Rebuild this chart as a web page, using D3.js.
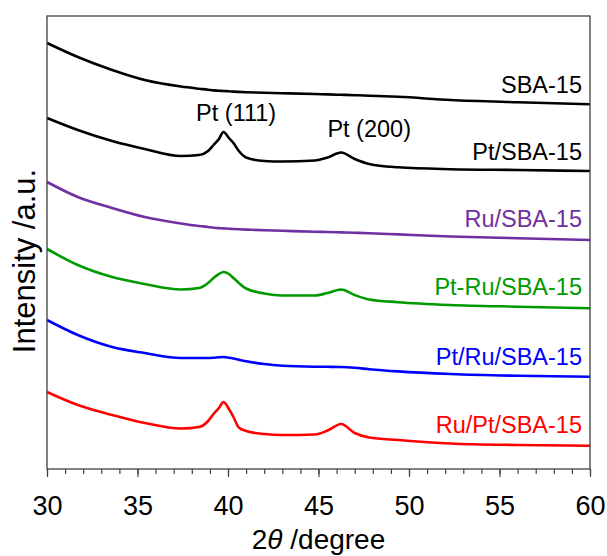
<!DOCTYPE html>
<html>
<head>
<meta charset="utf-8">
<script src="https://cdn.jsdelivr.net/npm/d3@7"></script>
<style>
  body { margin: 0; background: #fff; }
  svg { font-family: Arial, "Liberation Sans", sans-serif; }
</style>
</head>
<body>
<div id="chart"></div>
<script>
// 2theta sampling (degree)
const twoTheta = [30, 31.7, 33.6, 35.4, 37.4, 38.4, 38.9, 39.2, 39.5, 39.75, 40.05, 40.3, 40.6, 41, 42, 43, 44.8, 45.5, 46.25, 47, 47.8, 49.4, 52.3, 56, 60];

// intensities (a.u., stacked with offsets as in the figure)
const sba15   = [426, 412, 399, 389, 382.5, 380.3, 379.3, 378.6, 378.3, 378, 377.7, 377.4, 377.1, 376.8, 376.2, 375.8, 375, 374.6, 374.2, 373.8, 373.3, 372.2, 369, 366.7, 364.7];
const ptSba   = [351, 339, 328, 320, 313, 314, 318, 324, 330, 337, 331, 326, 318, 311.5, 308, 307.5, 308.5, 311.5, 316.5, 310, 305, 301.7, 299.8, 299, 298];
const ruSba   = [287, 272, 261, 252, 245.5, 243, 242, 241.2, 240.9, 240.6, 240.3, 240, 239.7, 239.4, 238.7, 238.2, 237.3, 237, 236.6, 236.2, 235.7, 234.6, 232.5, 230.8, 229];
const ptRuSba = [220, 204, 192, 185, 179.5, 181, 186, 191, 195, 197, 195, 191, 186, 180.5, 175.5, 173.5, 173.5, 176, 179.5, 174, 169.5, 166.8, 164, 162.3, 160.8];
const ptRuSeq = [149, 134, 122, 116, 111, 111, 111, 111.3, 111.8, 112, 111.3, 110.5, 109.3, 107.8, 105, 103.3, 102.3, 102.2, 102, 101.2, 99.8, 97.6, 95, 93.2, 92.3];
const ruPtSeq = [77, 64, 54, 46, 40.5, 42, 48, 55, 61, 67, 60, 52, 41.5, 38, 35, 34, 34.5, 38.5, 45, 36, 31.5, 29, 25.5, 24, 23.3];

const seriesNames  = ["SBA-15", "Pt/SBA-15", "Ru/SBA-15", "Pt-Ru/SBA-15", "Pt/Ru/SBA-15", "Ru/Pt/SBA-15"];
const seriesValues = [sba15, ptSba, ruSba, ptRuSba, ptRuSeq, ruPtSeq];
const seriesColors = ["#000000", "#000000", "#7030A0", "#009A00", "#0000FF", "#FF0000"];
// label baselines, in intensity units
const labelLevels  = [376, 309, 242, 174, 104, 36];

const peakLabels = [
  { text: "Pt (111)", x: 40.45, level: 348 },
  { text: "Pt (200)", x: 47.8, level: 332 }
];

const xTicks = [30, 35, 40, 45, 50, 55, 60];

const width = 607, height = 556;
const margin = { top: 16, right: 17, bottom: 87, left: 47 };

const svg = d3.select("#chart")
  .append("svg")
  .attr("width", width)
  .attr("height", height);

const xScale = d3.scaleLinear()
  .domain([30, 60])
  .range([margin.left, width - margin.right]);

const yScale = d3.scaleLinear()
  .domain([0, 453])
  .range([height - margin.bottom, margin.top]);

// minor ticks
svg.append("g")
  .attr("transform", `translate(0, ${yScale(0)})`)
  .call(d3.axisBottom(xScale).tickValues(d3.range(30, 61, 1)).tickSize(5).tickFormat("").tickSizeOuter(0))
  .call(g => g.select(".domain").remove())
  .call(g => g.selectAll("line").attr("stroke", "#404040").attr("stroke-width", 1.2));

// major ticks + labels
svg.append("g")
  .attr("transform", `translate(0, ${yScale(0)})`)
  .call(d3.axisBottom(xScale).tickValues(xTicks).tickSize(8).tickPadding(19).tickSizeOuter(0))
  .call(g => g.select(".domain").remove())
  .call(g => g.selectAll("line").attr("stroke", "#404040").attr("stroke-width", 1.2))
  .call(g => g.selectAll("text")
    .attr("fill", "#000")
    .style("font-size", "27px")
    .style("font-family", "Arial, 'Liberation Sans', sans-serif"));

// lines
const line = d3.line()
  .x((d, i) => xScale(twoTheta[i]))
  .y(d => yScale(d))
  .curve(d3.curveMonotoneX);

svg.append("g")
  .selectAll("path")
  .data(seriesValues)
  .join("path")
  .attr("d", d => line(d))
  .attr("fill", "none")
  .attr("stroke", (d, i) => seriesColors[i])
  .attr("stroke-width", 2.6)
  .attr("stroke-linejoin", "round");

// frame
svg.append("rect")
  .attr("x", xScale(30))
  .attr("y", yScale(453))
  .attr("width", xScale(60) - xScale(30))
  .attr("height", yScale(0) - yScale(453))
  .attr("fill", "none")
  .attr("stroke", "#404040")
  .attr("stroke-width", 1.3);

// series labels
svg.append("g")
  .selectAll("text")
  .data(seriesNames)
  .join("text")
  .attr("x", xScale(60) - 8)
  .attr("y", (d, i) => yScale(labelLevels[i]))
  .attr("text-anchor", "end")
  .attr("fill", (d, i) => seriesColors[i])
  .style("font-size", "23.5px")
  .text(d => d);

// peak labels
svg.append("g")
  .selectAll("text")
  .data(peakLabels)
  .join("text")
  .attr("x", d => xScale(d.x))
  .attr("y", d => yScale(d.level))
  .attr("text-anchor", "middle")
  .style("font-size", "23.5px")
  .text(d => d.text);

// axis titles
const xTitle = svg.append("text")
  .attr("x", (xScale(30) + xScale(60)) / 2)
  .attr("y", 549)
  .attr("text-anchor", "middle")
  .style("font-size", "28px");
xTitle.append("tspan").text("2");
xTitle.append("tspan").style("font-style", "italic").text("θ");
xTitle.append("tspan").text(" /degree");

svg.append("text")
  .attr("transform", "translate(35, 261) rotate(-90)")
  .attr("text-anchor", "middle")
  .style("font-size", "31px")
  .text("Intensity /a.u.");
</script>
</body>
</html>
